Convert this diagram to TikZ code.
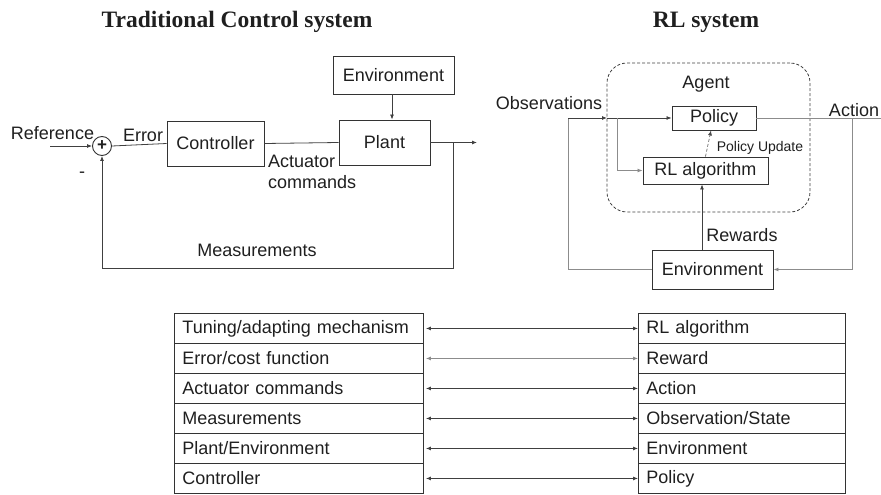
\documentclass[tikz,border=0pt]{standalone}
\usepackage{fontspec}
\setmainfont{Liberation Sans}
\newfontfamily\titlefont{Liberation Serif}
\usetikzlibrary{arrows.meta}
\begin{document}
\begin{tikzpicture}[x=1pt,y=-1pt,
  every node/.style={text=black!88},
  box/.style={draw=black!80, line width=0.9pt, font=\fontsize{18}{21}\selectfont, inner sep=0pt},
  lbl/.style={font=\fontsize{18}{21}\selectfont, inner sep=0pt},
  small/.style={font=\fontsize{14}{16}\selectfont, inner sep=0pt},
  ttl/.style={font=\titlefont\bfseries\fontsize{23.5}{26}\selectfont, inner sep=0pt},
  tip/.style={-{Latex[length=5pt,width=4pt]}},
  dline/.style={draw=black!75, line width=0.8pt},
  gline/.style={draw=black!45, line width=0.8pt},
  row/.style={draw=black!80, line width=0.9pt, font=\fontsize{18}{21}\selectfont, minimum height=30pt, inner xsep=8pt, inner ysep=0pt, align=left, anchor=north west},
  lrow/.style={row, text width=233pt},
  rrow/.style={row, text width=191pt},
  both/.style={{Latex[length=5pt,width=4pt]}-{Latex[length=5pt,width=4pt]}, shorten <=2pt},
]
\useasboundingbox (0,0) rectangle (881,495);

% titles
\node[ttl] (t1) at (237,22) {Traditional Control system};
\node[ttl] (t2) at (706,22) {RL system};

% ---------------- traditional control ----------------
\node[box, minimum width=121pt, minimum height=38pt] (env1) at (393.5,75) {Environment};
\node[box, minimum width=91pt, minimum height=45pt] (plant) at (384.5,142.5) {Plant};
\node[box, minimum width=97pt, minimum height=45pt] (ctrl) at (215.5,143.5) {Controller};
\node[draw=black!80, line width=0.9pt, circle, minimum size=19pt, inner sep=0pt, font=\bfseries\fontsize{17}{17}\selectfont] (sum) at (102,146) {+};

\node[lbl] (ref) at (52.5,133) {Reference};
\node[lbl] (minus) at (82,175) {-};
\node[lbl] (err) at (143,135) {Error};
\node[lbl, align=left, anchor=west] (act) at (268,171.5) {Actuator\\commands};
\node[lbl] (meas) at (257,250) {Measurements};

\coordinate (refin) at (50,146);
\coordinate (out) at (477,142.5);
\coordinate (fb) at (453,142.5);
\coordinate (fbc) at (453,268);

\draw[dline,tip] (refin) -- (sum.west);
\draw[dline] (sum.east) -- (ctrl.west);
\draw[dline] (ctrl.east) -- (plant.west);
\draw[dline,tip] ([xshift=-1.5pt]env1.south) -- ([xshift=-1.5pt]env1.south |- plant.north);
\draw[dline,tip] (plant.east) -- (out);
\draw[dline,tip] (fb) -- (fbc) -| (sum.south);

% ---------------- RL system ----------------
\node[draw=black!75, dash pattern=on 3pt off 2pt, line width=0.8pt, rounded corners=20pt,
      minimum width=203pt, minimum height=149pt, inner sep=0pt] (agent) at (708.5,137.5) {};
\node[lbl] (agentlbl) at (706,84) {Agent};
\node[box, minimum width=84pt, minimum height=24pt] (policy) at (714,118) {Policy};
\node[box, minimum width=125pt, minimum height=27pt] (rl) at (705.5,170.5) {RL algorithm};
\node[box, minimum width=121pt, minimum height=39pt] (env2) at (712.5,269.5) {Environment};

\node[lbl] (obs) at (549,103) {Observations};
\node[lbl] (action) at (854,110) {Action};
\node[small] (pu) at (760,148) {Policy Update};
\node[lbl] (rew) at (742,235) {Rewards};

\coordinate (obsL) at (568,118);
\coordinate (obsB) at (607,118);
\coordinate (br) at (617,118);
\coordinate (actE) at (881,118);
\coordinate (actV) at (852,118);

\draw[gline] (env2.west) -| (obsL);
\draw[dline,tip] (obsL) -- (obsB);
\draw[dline,tip] (obsB) -- (policy.west);
\draw[gline,tip] (br) |- (rl.west);
\draw[gline] (policy.east) -- (actE);
\draw[gline,tip] (actV) |- (env2.east);
\draw[dline,tip] ([xshift=-10.5pt]env2.north) -- ([xshift=-10.5pt]env2.north |- rl.south);
\draw[draw=black!70, line width=0.6pt, densely dashed, tip] (rl.north) -- ([xshift=-3pt]policy.south);

% ---------------- comparison table ----------------
\node[lrow] (l1) at (174,313) {Tuning/adapting mechanism};
\node[lrow] (l2) at (174,343) {Error/cost function};
\node[lrow] (l3) at (174,373) {Actuator commands};
\node[lrow] (l4) at (174,403) {Measurements};
\node[lrow] (l5) at (174,433) {Plant/Environment};
\node[lrow] (l6) at (174,463) {Controller};

\node[rrow] (r1) at (638,313) {RL algorithm};
\node[rrow] (r2) at (638,343) {Reward};
\node[rrow] (r3) at (638,373) {Action};
\node[rrow] (r4) at (638,403) {Observation/State};
\node[rrow] (r5) at (638,433) {Environment};
\node[rrow] (r6) at (638,463) {Policy};

\draw[dline,both] (l1.east) -- (r1.west);
\draw[gline,both] (l2.east) -- (r2.west);
\draw[dline,both] (l3.east) -- (r3.west);
\draw[dline,both] (l4.east) -- (r4.west);
\draw[dline,both] (l5.east) -- (r5.west);
\draw[dline,both] (l6.east) -- (r6.west);
\end{tikzpicture}
\end{document}
